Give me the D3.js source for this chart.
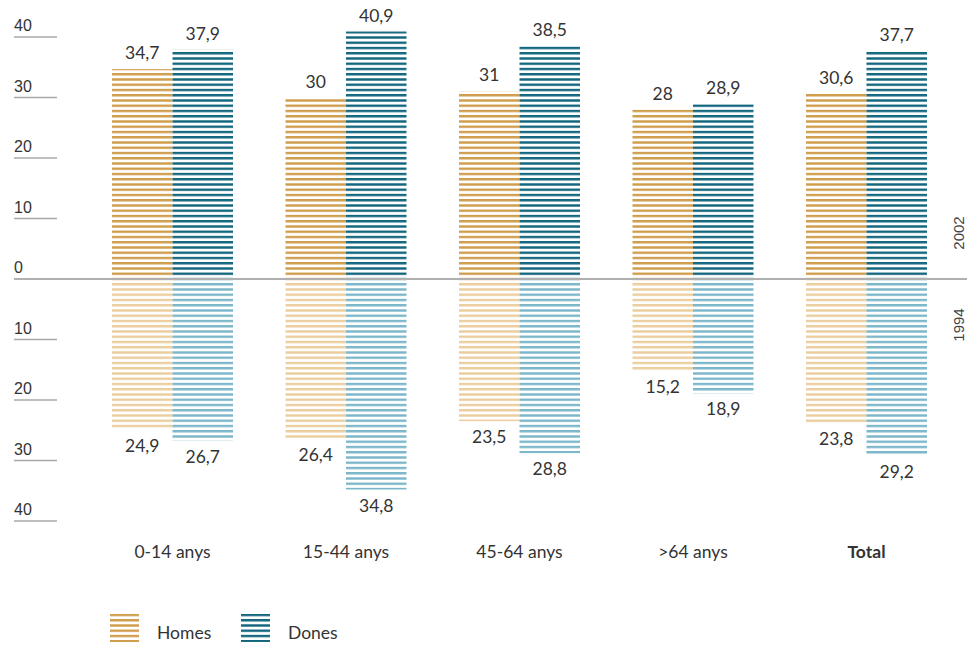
<!DOCTYPE html>
<html>
<head>
<meta charset="utf-8">
<script src="https://cdn.jsdelivr.net/npm/d3@7"></script>
<style>
  body { margin: 0; background: #fff; }
  svg { display: block; }
  text { fill: #333; }
</style>
</head>
<body>
<svg id="chart" width="967" height="646"></svg>
<script>
// Data
var categories = ['0-14 anys', '15-44 anys', '45-64 anys', '>64 anys', 'Total'];
var series = ['Homes', 'Dones'];
var homes2002 = [34.7, 30, 31, 28, 30.6];
var dones2002 = [37.9, 40.9, 38.5, 28.9, 37.7];
var homes1994 = [24.9, 26.4, 23.5, 15.2, 23.8];
var dones1994 = [26.7, 34.8, 28.8, 18.9, 29.2];
var tickValues = [40, 30, 20, 10, 0, -10, -20, -30, -40];
var yearLabels = ['2002', '1994'];

var svg = d3.select('#chart');
var fontNum = 'Lato, "Open Sans", sans-serif';
var fontTick = '"Liberation Sans", Arial, sans-serif';

// scales
var x = d3.scaleBand()
    .domain(categories)
    .range([86, 953])
    .paddingInner(0.3026)
    .paddingOuter(0.15);

var xInner = d3.scaleBand()
    .domain(series)
    .range([0, x.bandwidth()]);

var y = d3.scaleLinear()
    .domain([-40, 40])
    .range([521, 37]);

var zeroY = y(0);

// stripe patterns
var colours = {
    Homes2002: '#cf9d4c',
    Dones2002: '#12667e',
    Homes1994: '#ebcd9e',
    Dones1994: '#7cb6ca'
};
var pitch = 5.25;
var defs = svg.append('defs');
Object.keys(colours).forEach(function(k) {
    var p = defs.append('pattern')
        .attr('id', 'pat-' + k)
        .attr('patternUnits', 'userSpaceOnUse')
        .attr('width', 10)
        .attr('height', pitch)
        .attr('y', zeroY - 1.2);
    p.append('rect')
        .attr('x', 0).attr('y', 0)
        .attr('width', 10).attr('height', 2.4)
        .attr('fill', colours[k]);
});

// y axis ticks (label above a short line)
var ticks = svg.append('g').attr('class', 'y axis');
tickValues.forEach(function(t) {
    if (t !== 0) {
        ticks.append('line')
            .attr('x1', 14).attr('x2', 57)
            .attr('y1', y(t)).attr('y2', y(t))
            .attr('stroke', '#a8a8a8')
            .attr('stroke-width', 1.5);
    }
    ticks.append('text')
        .attr('x', 14)
        .attr('y', y(t) - 6)
        .attr('font-family', fontTick)
        .attr('font-size', 16)
        .text(Math.abs(t));
});

// bars
var bars = [];
categories.forEach(function(c, i) {
    bars.push({cat: c, s: 'Homes', year: '2002', v: homes2002[i]});
    bars.push({cat: c, s: 'Dones', year: '2002', v: dones2002[i]});
    bars.push({cat: c, s: 'Homes', year: '1994', v: -homes1994[i]});
    bars.push({cat: c, s: 'Dones', year: '1994', v: -dones1994[i]});
});

svg.selectAll('.bar')
    .data(bars)
    .enter()
    .append('rect')
    .attr('class', 'bar')
    .attr('x', function(d) { return x(d.cat) + xInner(d.s); })
    .attr('width', xInner.bandwidth())
    .attr('y', function(d) { return d.v > 0 ? y(d.v) : zeroY; })
    .attr('height', function(d) { return Math.abs(y(d.v) - zeroY); })
    .attr('fill', function(d) { return 'url(#pat-' + d.s + d.year + ')'; });

// value labels
svg.selectAll('.value')
    .data(bars)
    .enter()
    .append('text')
    .attr('class', 'value')
    .attr('x', function(d) { return x(d.cat) + xInner(d.s) + xInner.bandwidth() / 2; })
    .attr('y', function(d) { return d.v > 0 ? y(d.v) - 10 : y(d.v) + 22; })
    .attr('text-anchor', 'middle')
    .attr('font-family', fontNum)
    .attr('font-size', 17.5)
    .text(function(d) { return String(Math.abs(d.v)).replace('.', ','); });

// zero line
svg.append('line')
    .attr('x1', 14).attr('x2', 967)
    .attr('y1', zeroY).attr('y2', zeroY)
    .attr('stroke', '#b0b0b0')
    .attr('stroke-width', 2);

// category labels
svg.selectAll('.cat')
    .data(categories)
    .enter()
    .append('text')
    .attr('x', function(d) { return x(d) + x.bandwidth() / 2; })
    .attr('y', 558)
    .attr('text-anchor', 'middle')
    .attr('font-family', fontNum)
    .attr('font-size', 17.5)
    .attr('font-weight', function(d) { return d === 'Total' ? 'bold' : 'normal'; })
    .text(function(d) { return d; });

// year labels on the right
svg.selectAll('.year')
    .data(yearLabels)
    .enter()
    .append('text')
    .attr('transform', function(d, i) {
        return 'translate(964,' + (i === 0 ? 233 : 325) + ') rotate(-90)';
    })
    .attr('text-anchor', 'middle')
    .attr('font-family', fontTick)
    .attr('font-size', 15)
    .style('fill', '#444')
    .text(function(d) { return d; });

// legend
var legend = svg.append('g').attr('class', 'legend');
var legendX = [110, 241];
series.forEach(function(s, i) {
    legend.append('rect')
        .attr('x', legendX[i])
        .attr('y', 614)
        .attr('width', 29)
        .attr('height', 28)
        .attr('fill', 'url(#pat-' + s + '2002)');
    legend.append('text')
        .attr('x', legendX[i] + 47)
        .attr('y', 639)
        .attr('font-family', fontNum)
        .attr('font-size', 17.5)
        .text(s);
});
</script>
</body>
</html>
